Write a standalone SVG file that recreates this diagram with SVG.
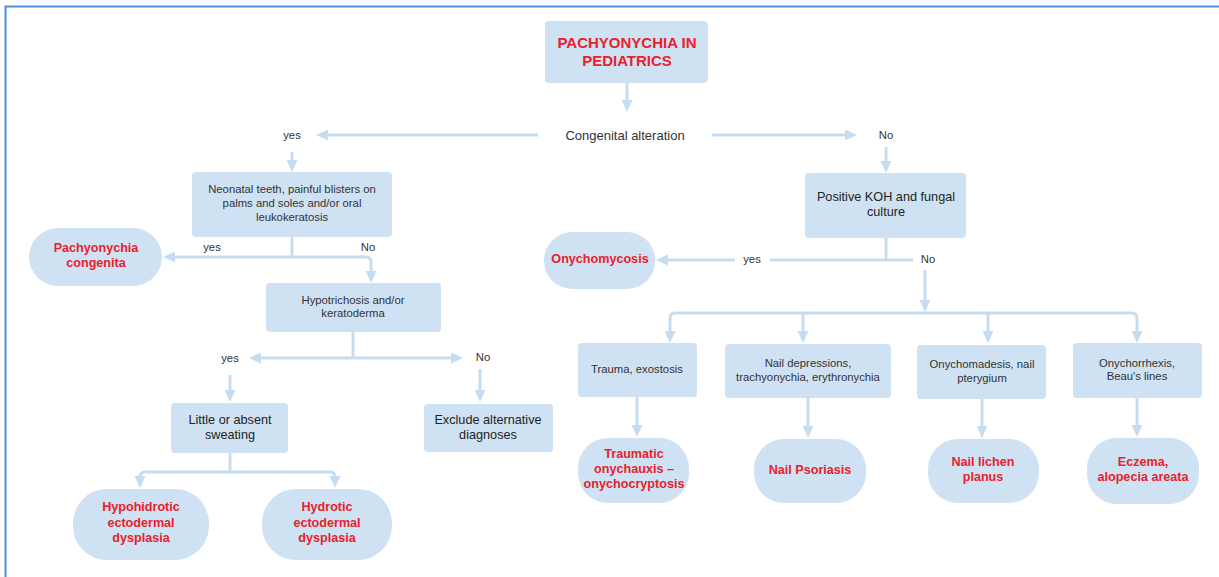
<svg xmlns="http://www.w3.org/2000/svg" width="1219" height="577" viewBox="0 0 1219 577">
<style>
.bx{fill:#cfe2f3}
.c{fill:none;stroke:#c6ddf1;stroke-width:3}
.a{marker-end:url(#ah)}
.t{font-family:"Liberation Sans",Arial,sans-serif;fill:#333;text-anchor:middle;dominant-baseline:central}
.s{font-size:11.3px}
.m{font-size:12.7px;fill:#222}
.r{font-size:12.6px;font-weight:bold;fill:#e8212b}
.h{font-size:15px;font-weight:bold;fill:#e8212b}
</style>
<defs>
<marker id="ah" markerUnits="userSpaceOnUse" markerWidth="12" markerHeight="11" refX="4" refY="5.5" orient="auto"><path d="M0,0L12,5.5L0,11z" fill="#c6ddf1"/></marker>
</defs>
<rect width="1219" height="577" fill="#fff"/>
<path d="M5.5,577V6.5H1219" fill="none" stroke="#4a92d4" stroke-width="2"/>
<g id="connectors">
<path class="c a" d="M627,83V104"/>
<path class="c a" d="M538,135H324"/>
<path class="c a" d="M712,135H849"/>
<path class="c a" d="M292,152V164"/>
<path class="c a" d="M886,147V165"/>
<path class="c" d="M292,237V257"/>
<path class="c a" d="M292,257H171"/>
<path class="c a" d="M292,257H366Q371,257 371,262V275"/>
<path class="c" d="M353,332V358"/>
<path class="c a" d="M353,358H257"/>
<path class="c a" d="M353,358H455"/>
<path class="c a" d="M230,375V394"/>
<path class="c a" d="M480,369V394"/>
<path class="c" d="M230,453V472"/>
<path class="c a" d="M230,472H145Q140,472 140,477V480"/>
<path class="c a" d="M230,472H330Q335,472 335,477V480"/>
<path class="c" d="M886,238V260H770"/>
<path class="c a" d="M735,260H664"/>
<path class="c" d="M886,260H913"/>
<path class="c a" d="M925,270V304"/>
<path class="c a" d="M925,313H675Q670,313 670,318V335"/>
<path class="c a" d="M925,313H1132Q1137,313 1137,318V335"/>
<path class="c a" d="M803,313V335"/>
<path class="c a" d="M988,313V335"/>
<path class="c a" d="M637,397V429"/>
<path class="c a" d="M808,398V430"/>
<path class="c a" d="M982,399V430"/>
<path class="c a" d="M1137,398V429"/>
<text class="t s" x="292" y="135">yes</text>
<text class="t s" x="886" y="135">No</text>
<text class="t s" x="212" y="247">yes</text>
<text class="t s" x="368" y="247">No</text>
<text class="t s" x="230" y="358">yes</text>
<text class="t s" x="483" y="357">No</text>
<text class="t s" x="752" y="259">yes</text>
<text class="t s" x="928" y="259">No</text>
</g>
<g id="title"><rect class="bx" x="545" y="21" width="163" height="62" rx="4"/><text class="t h" x="627" y="42">PACHYONYCHIA IN</text><text class="t h" x="627" y="60">PEDIATRICS</text></g>
<g id="congenital"><text class="t" x="625" y="135" font-size="13">Congenital alteration</text></g>
<g id="neonatal"><rect class="bx" x="192" y="172" width="200" height="65" rx="4"/><text class="t s" x="292" y="189">Neonatal teeth, painful blisters on</text><text class="t s" x="292" y="203">palms and soles and/or oral</text><text class="t s" x="292" y="217">leukokeratosis</text></g>
<g id="pachyonychia-congenita"><rect class="bx" x="29" y="228" width="133" height="58" rx="29"/><text class="t r" x="96" y="248">Pachyonychia</text><text class="t r" x="96" y="263">congenita</text></g>
<g id="hypotrichosis"><rect class="bx" x="266" y="283" width="175" height="49" rx="4"/><text class="t s" x="353" y="300">Hypotrichosis and/or</text><text class="t s" x="353" y="313">keratoderma</text></g>
<g id="sweating"><rect class="bx" x="171" y="403" width="117" height="50" rx="4"/><text class="t m" x="230" y="420">Little or absent</text><text class="t m" x="230" y="435">sweating</text></g>
<g id="exclude"><rect class="bx" x="424" y="404" width="129" height="48" rx="4"/><text class="t m" x="488" y="420">Exclude alternative</text><text class="t m" x="488" y="435">diagnoses</text></g>
<g id="hypohidrotic"><rect class="bx" x="73" y="489" width="136" height="71" rx="34"/><text class="t r" x="141" y="507">Hypohidrotic</text><text class="t r" x="141" y="523">ectodermal</text><text class="t r" x="141" y="538">dysplasia</text></g>
<g id="hydrotic"><rect class="bx" x="262" y="489" width="130" height="71" rx="34"/><text class="t r" x="327" y="507">Hydrotic</text><text class="t r" x="327" y="523">ectodermal</text><text class="t r" x="327" y="538">dysplasia</text></g>
<g id="koh"><rect class="bx" x="805" y="173" width="161" height="65" rx="4"/><text class="t m" x="886" y="197">Positive KOH and fungal</text><text class="t m" x="886" y="212">culture</text></g>
<g id="onychomycosis"><rect class="bx" x="544" y="232" width="111" height="57" rx="28"/><text class="t r" x="600" y="259">Onychomycosis</text></g>
<g id="trauma"><rect class="bx" x="578" y="343" width="119" height="54" rx="4"/><text class="t s" x="637" y="369">Trauma, exostosis</text></g>
<g id="nail-depressions"><rect class="bx" x="725" y="344" width="166" height="54" rx="4"/><text class="t s" x="808" y="363">Nail depressions,</text><text class="t s" x="808" y="377">trachyonychia, erythronychia</text></g>
<g id="onychomadesis"><rect class="bx" x="917" y="345" width="129" height="54" rx="4"/><text class="t s" x="982" y="364" fill="#222">Onychomadesis, nail</text><text class="t s" x="982" y="378" fill="#222">pterygium</text></g>
<g id="onychorrhexis"><rect class="bx" x="1073" y="343" width="129" height="55" rx="4"/><text class="t s" x="1137" y="363">Onychorrhexis,</text><text class="t s" x="1137" y="376">Beau's lines</text></g>
<g id="traumatic"><rect class="bx" x="578" y="438" width="111" height="65" rx="30"/><text class="t r" x="634" y="454">Traumatic</text><text class="t r" x="634" y="469">onychauxis –</text><text class="t r" x="634" y="484">onychocryptosis</text></g>
<g id="nail-psoriasis"><rect class="bx" x="754" y="439" width="112" height="64" rx="30"/><text class="t r" x="810" y="470">Nail Psoriasis</text></g>
<g id="lichen"><rect class="bx" x="928" y="439" width="111" height="64" rx="30"/><text class="t r" x="983" y="462">Nail lichen</text><text class="t r" x="983" y="477">planus</text></g>
<g id="eczema"><rect class="bx" x="1087" y="438" width="112" height="66" rx="30"/><text class="t r" x="1143" y="462">Eczema,</text><text class="t r" x="1143" y="477">alopecia areata</text></g>
</svg>
